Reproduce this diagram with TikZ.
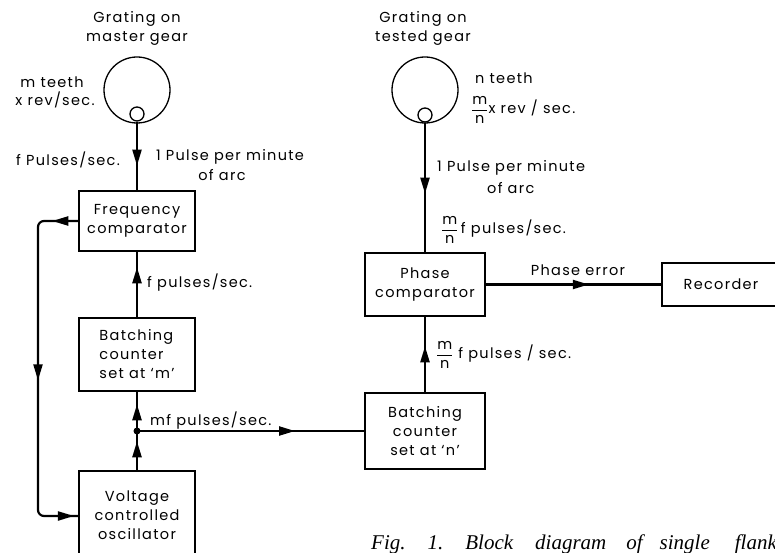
\documentclass[tikz,border=0pt]{standalone}
\usepackage{fontspec}
\usepackage{amsmath}
\setmainfont[LetterSpace=9]{Poppins}
\newfontfamily\capfont{Liberation Serif}
\usetikzlibrary{arrows.meta,decorations.markings}
\newcommand{\lblfont}{\fontsize{14.5}{19}\selectfont}
\newcommand{\mn}{$\dfrac{\text{m}}{\text{n}}$}
\tikzset{
  box/.style={draw, line width=1.5pt, minimum width=116pt, inner sep=0pt, align=center, font=\lblfont},
  conn/.style={line width=2.2pt},
  arrowat/.style={postaction={decorate,decoration={markings,mark=at position #1 with {\arrow{Triangle[length=16pt,width=9pt]}}}}},
  lbl/.style={inner sep=0pt, align=center, font=\lblfont},
  gear/.style={draw, circle, line width=1.3pt, inner sep=0pt},
}
\begin{document}
\begin{tikzpicture}[x=1pt,y=-1pt]
\path[use as bounding box] (0,0) rectangle (775,553);
\clip (0,0) rectangle (775,553);
\fill[white] (0,0) rectangle (775,553);

% master gear
\node[gear, minimum size=66pt] (mg) at (137,90) {};
\node[gear, fill=white, minimum size=14pt] (mgs) at (137,114) {};
\node[lbl] (mgt) at (137,28) {Grating on\\master gear};
\node[lbl] (mteeth) at (52,82) {m teeth};
\node[lbl] (mrev) at (55,100) {x rev/sec.};
\node[lbl] (fps) at (68,160) {f Pulses/sec.};
\node[lbl] (ppm1) at (230,157) {1 Pulse per minute};
\node[lbl] (ppm1b) at (222,175) {of arc};

% tested gear
\node[gear, minimum size=66pt] (tg) at (425,90) {};
\node[gear, fill=white, minimum size=14pt] (tgs) at (425,115) {};
\node[lbl] (tgt) at (423,28) {Grating on\\tested gear};
\node[lbl, anchor=west] (nteeth) at (475,78) {n teeth};
\node[lbl, anchor=west] (nrev) at (471,110) {\mn x rev / sec.};
\node[lbl, anchor=west] (ppm2) at (437,168) {1 Pulse per minute};
\node[lbl, anchor=west] (ppm2b) at (487,188) {of arc};
\node[lbl, anchor=west] (mnf1) at (441,230) {\mn\,f pulses/sec.};
\node[lbl, anchor=west] (mnf2) at (436,355) {\mn\,\,f pulses / sec.};

% boxes
\node[box, minimum height=60pt] (fc) at (137,221) {Frequency\\comparator};
\node[box, minimum height=73pt, align=left] (bcm) at (137,354.5) {Batching\\counter\\set at ‘m’};
\node[box, minimum height=88pt] (vco) at (137,515) {Voltage\\controlled\\oscillator};
\node[box, minimum width=120pt, minimum height=63pt] (pc) at (425,284.5) {Phase\\comparator};
\node[box, minimum width=120pt, minimum height=76pt] (bcn) at (425,431) {Batching\\counter\\set at ‘n’};
\node[box, minimum width=118pt, minimum height=43pt] (rec) at (721,284.5) {Recorder};

% labels on connectors
\node[lbl, anchor=west] (fps2) at (147,283) {f pulses/sec.};
\node[lbl, anchor=west] (mfps) at (150,421) {mf pulses/sec.};
\node[lbl] (perr) at (578,270) {Phase error};

% connectors
\node[circle, fill, inner sep=0pt, minimum size=7pt] (dot) at (137,431) {};
\coordinate (fbA) at (38,221);
\coordinate (fbB) at (38,516);
\draw[conn, arrowat=44pt] (mgs.south) -- (fc.north);
\draw[conn, arrowat=50pt] (bcm.north) -- (fc.south);
\draw[conn, arrowat=29pt, arrowat=66pt] (vco.north) -- (bcm.south);
\draw[conn, arrowat=158pt] (dot.center) -- (bcn.west);
\draw[conn, arrowat=71pt] (tgs.south) -- (pc.north);
\draw[conn, arrowat=46pt] (bcn.north) -- (pc.south);
\draw[conn, arrowat=103pt] (pc.east) -- (rec.west);
\draw[conn, rounded corners=6pt, arrowat=26pt, arrowat=197pt, arrowat=366pt]
  (fc.west) -- (fbA) -- (fbB) -- (vco.west |- fbB);

% caption
\node[anchor=base west, inner sep=0pt, font=\capfont\itshape\fontsize{21}{21}\selectfont] (cap) at (371,549)
  {Fig.\hspace{22pt}1.\hspace{22pt}Block\hspace{22pt}diagram\hspace{20pt}of\hspace{17pt}single\hspace{25pt}flank};
\end{tikzpicture}
\end{document}
